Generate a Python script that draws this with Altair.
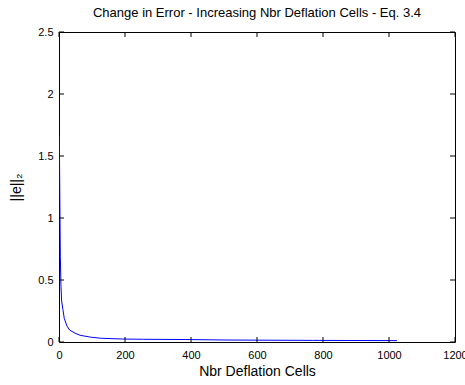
import altair as alt
import pandas as pd

# Data
cells = [1, 4, 6, 8, 12, 16, 24, 32, 48, 64, 96, 128, 192, 256, 384, 512, 768, 1024]
err = [1.66, 0.69, 0.45, 0.33, 0.26, 0.19, 0.13, 0.097, 0.072, 0.054, 0.039, 0.030,
       0.024, 0.022, 0.020, 0.016, 0.013, 0.011]

x_ticks = [0, 200, 400, 600, 800, 1000, 1200]
y_ticks = [0, 0.5, 1, 1.5, 2, 2.5]

W, H = 396, 310
FONT = "Liberation Sans"

df = pd.DataFrame({"cells": cells, "err": err})
xt = pd.DataFrame({"v": x_ticks})
yt = pd.DataFrame({"v": y_ticks})

xscale = alt.Scale(domain=[0, 1200], nice=False)
yscale = alt.Scale(domain=[0, 2.5], nice=False)

line = alt.Chart(df).mark_line(color="#0000ff", strokeWidth=1, clip=True).encode(
    x=alt.X("cells:Q", scale=xscale,
            axis=alt.Axis(values=x_ticks, format="d", title="Nbr Deflation Cells", tickSize=0,
                          labelPadding=7, labelFontSize=11, labelFont=FONT,
                          labelColor="#000000", titleFont=FONT, titleFontSize=14,
                          titleFontWeight="normal", titleColor="#000000",
                          titlePadding=4, domain=False, grid=False,
                          labelFlush=False)),
    y=alt.Y("err:Q", scale=yscale,
            axis=alt.Axis(values=y_ticks, format="~g", title="||e||₂", tickSize=0,
                          labelPadding=6, labelFontSize=11, labelFont=FONT,
                          labelColor="#000000", titleFont=FONT, titleFontSize=14,
                          titleFontWeight="normal", titleColor="#000000",
                          titlePadding=14, domain=False, grid=False,
                          labelFlush=False)),
)

tick_len = 5
xb = alt.Chart(xt).mark_rule(color="black", strokeWidth=1).encode(
    x=alt.X("v:Q", scale=xscale), y=alt.value(H), y2=alt.value(H - tick_len))
xtop = alt.Chart(xt).mark_rule(color="black", strokeWidth=1).encode(
    x=alt.X("v:Q", scale=xscale), y=alt.value(0), y2=alt.value(tick_len))
yl = alt.Chart(yt).mark_rule(color="black", strokeWidth=1).encode(
    y=alt.Y("v:Q", scale=yscale), x=alt.value(0), x2=alt.value(tick_len))
yr = alt.Chart(yt).mark_rule(color="black", strokeWidth=1).encode(
    y=alt.Y("v:Q", scale=yscale), x=alt.value(W), x2=alt.value(W - tick_len))

chart = alt.layer(line, xb, xtop, yl, yr).properties(
    width=W, height=H,
    title=alt.TitleParams("Change in Error - Increasing Nbr Deflation Cells - Eq. 3.4",
                          font=FONT, fontSize=13, fontWeight="normal", color="#000000",
                          anchor="middle", offset=6),
    padding={"left": 59, "top": 32, "right": 10, "bottom": 43},
    autosize=alt.AutoSizeParams(type="none"),
    background="white",
).configure_view(stroke="black", strokeWidth=1)

chart.save("out.html", embed_options={"renderer": "svg", "actions": False})
